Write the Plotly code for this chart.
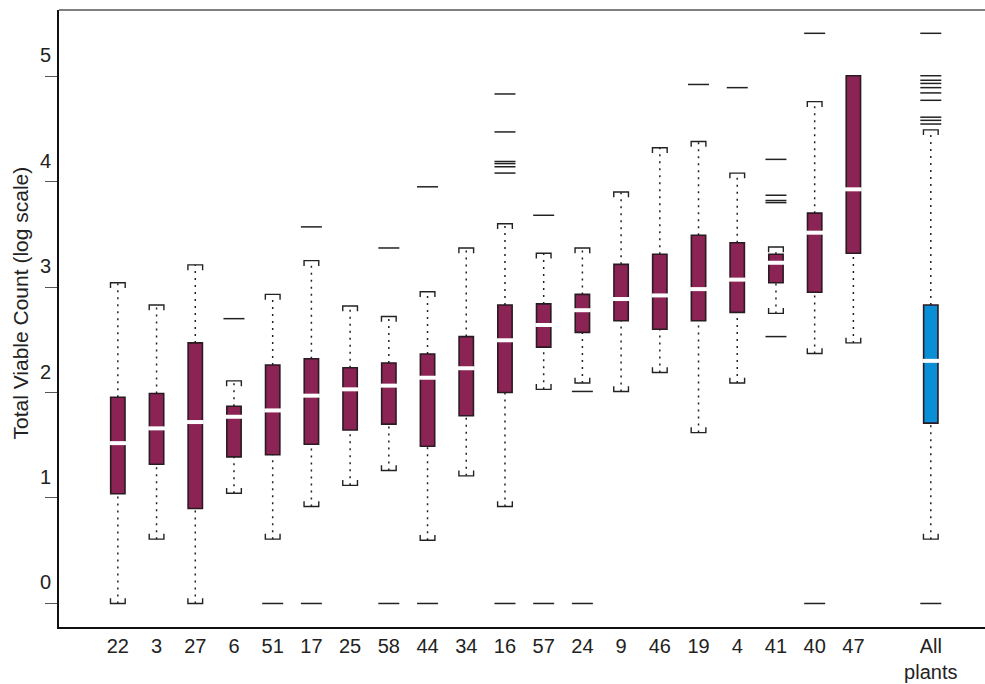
import plotly.graph_objects as go

labels = ["22", "3", "27", "6", "51", "17", "25", "58", "44", "34", "16", "57",
          "24", "9", "46", "19", "4", "41", "40", "47", "All<br>plants"]
positions = [0, 1, 2, 3, 4, 5, 6, 7, 8, 9, 10, 11, 12, 13, 14, 15, 16, 17, 18, 19, 21]

lower = [0.0, 0.61, 0.0, 1.045, 0.61, 0.92, 1.12, 1.26, 0.60, 1.21, 0.92, 2.03,
         2.09, 2.01, 2.19, 1.62, 2.09, 2.75, 2.37, 2.47, 0.61]
q1 = [1.04, 1.32, 0.90, 1.39, 1.41, 1.51, 1.645, 1.70, 1.49, 1.78, 2.0, 2.43,
      2.57, 2.68, 2.60, 2.68, 2.76, 3.04, 2.95, 3.32, 1.71]
median = [1.52, 1.66, 1.72, 1.77, 1.83, 1.97, 2.03, 2.065, 2.14, 2.23, 2.495, 2.64,
          2.78, 2.886, 2.92, 2.98, 3.07, 3.23, 3.515, 3.926, 2.30]
q3 = [1.955, 1.99, 2.47, 1.87, 2.26, 2.32, 2.235, 2.28, 2.365, 2.53, 2.83, 2.84,
      2.93, 3.215, 3.31, 3.49, 3.42, 3.31, 3.70, 5.003, 2.83]
upper = [3.04, 2.83, 3.21, 2.11, 2.93, 3.25, 2.82, 2.72, 2.955, 3.37, 3.60, 3.32,
         3.37, 3.90, 4.32, 4.38, 4.08, 3.38, 4.757, None, 4.49]
outliers = [
    [], [], [], [2.70], [0.0], [3.57, 0.0], [], [3.37, 0.0], [3.95, 0.0], [],
    [4.83, 4.47, 4.19, 4.17, 4.14, 4.08, 0.0], [3.68, 0.0], [2.01, 0.0], [], [],
    [4.92], [4.89], [4.21, 3.87, 3.82, 3.80, 2.53], [5.405, 0.0], [],
    [5.405, 5.003, 4.96, 4.93, 4.89, 4.84, 4.77, 4.61, 4.58, 4.545, 0.0],
]
y_ticks = [0, 1, 2, 3, 4, 5]

MAROON = "#8b2455"
BLUE = "#0a8ed6"
colors = [MAROON] * 20 + [BLUE]
BOXW = 0.37
CAPH = 0.19
TICKD = 0.05

fig = go.Figure()

# whiskers (dotted)
wx, wy = [], []
for p, lo, a, b, up in zip(positions, lower, q1, q3, upper):
    if lo is not None:
        wx += [p, p, None]; wy += [lo, a, None]
    if up is not None:
        wx += [p, p, None]; wy += [b, up, None]
fig.add_trace(go.Scatter(x=wx, y=wy, mode="lines", hoverinfo="skip",
                         line=dict(color="#222", width=1.5, dash="2px,5px")))

# caps (bracket shape)
cx, cy = [], []
for p, lo, up in zip(positions, lower, upper):
    if up is not None:
        cx += [p - CAPH, p - CAPH, p + CAPH, p + CAPH, None]
        cy += [up - TICKD, up, up, up - TICKD, None]
    if lo is not None:
        cx += [p - CAPH, p - CAPH, p + CAPH, p + CAPH, None]
        cy += [lo + TICKD, lo, lo, lo + TICKD, None]
fig.add_trace(go.Scatter(x=cx, y=cy, mode="lines", hoverinfo="skip",
                         line=dict(color="#222", width=1.4)))

# boxes
fig.add_trace(go.Bar(x=positions, base=q1, y=[b - a for a, b in zip(q1, q3)],
                     width=BOXW, marker=dict(color=colors, line=dict(color="#2a1a22", width=1.6))))

# medians
fig.add_trace(go.Scatter(x=positions, y=median, mode="markers", hoverinfo="skip",
                         marker=dict(symbol="line-ew", size=12, line=dict(color="white", width=4))))

# outliers
ox, oy = [], []
for p, outs in zip(positions, outliers):
    for v in outs:
        ox.append(p); oy.append(v)
fig.add_trace(go.Scatter(x=ox, y=oy, mode="markers", hoverinfo="skip",
                         marker=dict(symbol="line-ew", size=15, line=dict(color="#222", width=1.5))))

annotations = []
for t in y_ticks:
    annotations.append(dict(x=0, xref="paper", y=t, yref="y", text=str(t), showarrow=False,
                            xanchor="right", yanchor="middle", xshift=-6, yshift=21,
                            font=dict(size=20, color="#222")))
annotations.append(dict(x=0, xref="paper", y=0.5, yref="paper", text="Total Viable Count (log scale)",
                        showarrow=False, textangle=-90, xanchor="center", yanchor="middle",
                        xshift=-39, yshift=15, font=dict(size=21, color="#222")))

fig.update_layout(
    width=985, height=684,
    margin=dict(l=59, r=0, t=10, b=57),
    paper_bgcolor="white", plot_bgcolor="white",
    showlegend=False, barmode="overlay",
    font=dict(family="Liberation Sans, Arial, sans-serif", color="#222"),
    annotations=annotations,
    shapes=[dict(type="line", xref="paper", yref="paper", x0=0, x1=1, y0=1, y1=1,
                 line=dict(color="#555", width=1.5))],
    xaxis=dict(range=[-1.52, 22.4], tickvals=positions, ticktext=labels, ticks="",
               showline=True, linecolor="#111", linewidth=2, showgrid=False, zeroline=False,
               tickfont=dict(size=20, color="#222")),
    yaxis=dict(range=[-0.223, 5.626], tickvals=y_ticks, showticklabels=False,
               ticks="outside", ticklen=12, tickcolor="#555", tickwidth=1.2,
               showline=True, linecolor="#111", linewidth=2, showgrid=False, zeroline=False),
)

fig.write_html("out.html")
